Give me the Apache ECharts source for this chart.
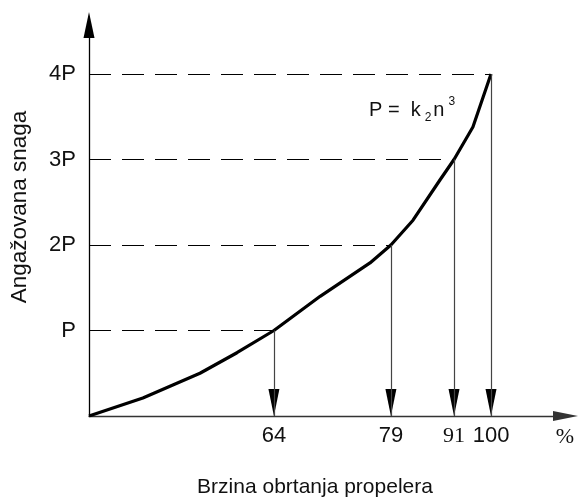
<!DOCTYPE html>
<html>
<head>
<meta charset="utf-8">
<script src="https://cdn.jsdelivr.net/npm/echarts@6/dist/echarts.min.js"></script>
<style>html,body{margin:0;padding:0;background:#fff}#c{width:579px;height:498px}</style>
</head>
<body>
<div id="c"></div>
<script>
// ---- data (schematic drawing units) ----
const curveX = [0, 13.4, 27.6, 36.8, 46.0, 57.5, 69.9, 75.1, 80.6, 87.3, 90.8, 95.5, 100];
const curveY = [0, 0.21, 0.50, 0.74, 1.00, 1.40, 1.79, 2.00, 2.29, 2.76, 3.00, 3.38, 4.00];
const markX = [46.0, 75.1, 90.8, 100];          // where each power level meets the curve
const markY = [1, 2, 3, 4];                      // power levels P .. 4P
const xTickLabels = ['64', '79', '91', '100'];   // speed in %
const yTickLabels = ['P', '2P', '3P', '4P'];
const yAxisTitle = 'Angažovana snaga';
const xAxisTitle = 'Brzina obrtanja propelera';
const unitLabel = '%';

// ---- styling config ----
const SANS = '"Liberation Sans", Arial, sans-serif';
const SERIF = '"Liberation Serif", "Times New Roman", serif';
const serifTicks = ['91'];

const chart = echarts.init(document.getElementById('c'), null, {renderer: 'canvas'});

const dashed = markX.map((x, i) => [{coord: [0, markY[i]]}, {coord: [x, markY[i]]}]);
const drops = markX.map((x, i) => [{coord: [x, markY[i]]}, {coord: [x, 0]}]);

chart.setOption({
  animation: false,
  grid: {left: 89, right: 13.5, top: 25, bottom: 82},
  xAxis: {
    type: 'value', min: 0, max: 118.53,
    splitLine: {show: false}, axisTick: {show: false},
    axisLine: {lineStyle: {color: '#333', width: 1.3}, symbol: ['none', 'triangle'], symbolSize: [10, 25]},
    axisLabel: {
      customValues: markX, margin: 9, color: '#111', fontFamily: SANS, fontSize: 22,
      formatter: v => {
        const i = markX.indexOf(v);
        if (i < 0) return '';
        const t = xTickLabels[i];
        return (serifTicks.indexOf(t) >= 0 ? '{s|' : '{n|') + t + '}';
      },
      rich: {
        s: {fontFamily: SERIF, fontSize: 22, color: '#111'},
        n: {fontFamily: SANS, fontSize: 22, color: '#111'}
      }
    }
  },
  yAxis: {
    type: 'value', min: 0, max: 4.573,
    splitLine: {show: false}, axisTick: {show: false},
    axisLine: {lineStyle: {color: '#000', width: 1.3}, symbol: ['none', 'triangle'], symbolSize: [11, 26]},
    axisLabel: {
      customValues: markY, margin: 13, color: '#111', fontFamily: SANS, fontSize: 22,
      formatter: v => { const i = markY.indexOf(v); return i < 0 ? '' : yTickLabels[i]; }
    }
  },
  series: [
    {
      type: 'line', z: 3,
      data: curveX.map((x, i) => [x, curveY[i]]),
      showSymbol: false, symbol: 'none',
      lineStyle: {color: '#000', width: 3.2},
      markLine: {
        silent: true, symbol: 'none', animation: false,
        label: {show: false},
        lineStyle: {color: '#000', width: 1, type: [22, 11]},
        data: dashed
      }
    },
    {
      type: 'line', z: 2, data: [],
      markLine: {
        silent: true, animation: false,
        symbol: 'none',
        label: {show: false},
        lineStyle: {color: '#444', width: 1.2, type: 'solid'},
        data: drops
      }
    },
    {
      type: 'scatter', z: 4, silent: true,
      data: markX.map(x => [x, 0]),
      symbol: 'triangle', symbolRotate: 180,
      symbolSize: [11, 27], symbolOffset: [0, -13.5],
      itemStyle: {color: '#000', opacity: 1}
    }
  ],
  graphic: [
    {type: 'text', x: 20, y: 207, rotation: Math.PI / 2,
     style: {text: yAxisTitle, font: '22.5px ' + SANS, fill: '#111', align: 'center', verticalAlign: 'middle'}},
    {type: 'text', x: 315, y: 487,
     style: {text: xAxisTitle, font: '21px ' + SANS, fill: '#111', align: 'center', verticalAlign: 'middle'}},
    {type: 'text', x: 565, y: 437,
     style: {text: unitLabel, font: '22px ' + SERIF, fill: '#111', align: 'center', verticalAlign: 'middle'}},
    {type: 'text', x: 369, y: 110,
     style: {
       text: '{m|P =  k}{sub|2}{m|n}{sup|3}',
       align: 'left', verticalAlign: 'middle',
       rich: {
         m: {font: '20px ' + SANS, fill: '#111', lineHeight: 28, verticalAlign: 'middle'},
         sub: {font: '12px ' + SANS, fill: '#111', lineHeight: 12, verticalAlign: 'bottom', padding: [0, 2, 0, 4]},
         sup: {font: '12px ' + SANS, fill: '#111', lineHeight: 12, verticalAlign: 'top', padding: [0, 0, 0, 4]}
       }
     }}
  ]
});
</script>
</body>
</html>
